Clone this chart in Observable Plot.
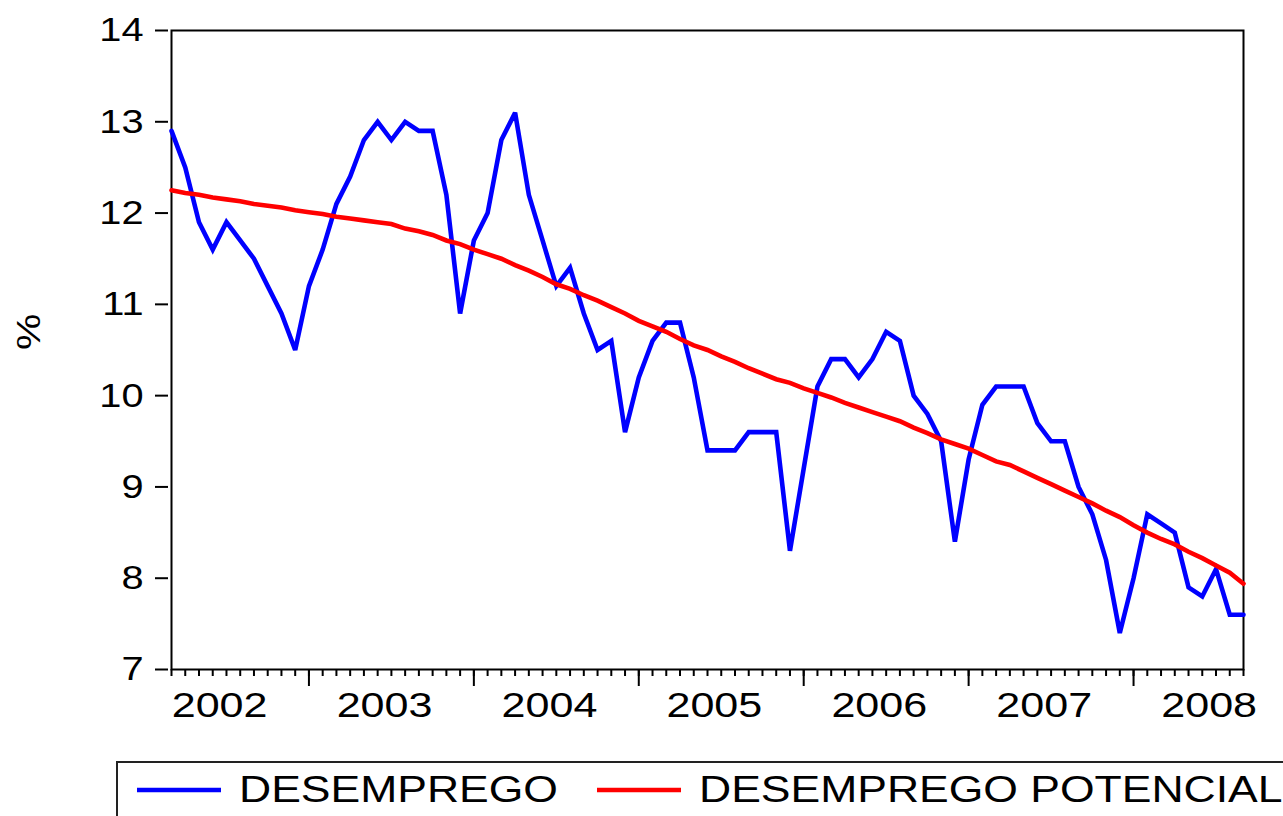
<!DOCTYPE html>
<html>
<head>
<meta charset="utf-8">
<script src="https://cdn.jsdelivr.net/npm/d3@7"></script>
<script src="https://cdn.jsdelivr.net/npm/@observablehq/plot@0.6"></script>
<style>
  html, body { margin: 0; padding: 0; background: #fff; }
  #wrap { position: relative; width: 1283px; height: 816px; overflow: hidden; background: #fff; }
  #legend { position: absolute; left: 0; top: 757px; }
  text { font-family: "Liberation Sans", Arial, sans-serif; }
</style>
</head>
<body>
<div id="wrap">
  <div id="chart"></div>
  <svg id="legend" width="1283" height="59"></svg>
</div>
<script>
// ---- data (monthly, Mar 2002 – Sep 2008) ----
const startYear = 2002;
const startMonth = 3; // March
const desemprego = [
  12.9, 12.5, 11.9, 11.6, 11.9, 11.7, 11.5, 11.2, 10.9, 10.5,
  11.2, 11.6, 12.1, 12.4, 12.8, 13.0, 12.8, 13.0, 12.9, 12.9,
  12.2, 10.9, 11.7, 12.0, 12.8, 13.1, 12.2, 11.7, 11.2, 11.4,
  10.9, 10.5, 10.6, 9.6, 10.2, 10.6, 10.8, 10.8, 10.2, 9.4,
  9.4, 9.4, 9.6, 9.6, 9.6, 8.3, 9.2, 10.1, 10.4, 10.4,
  10.2, 10.4, 10.7, 10.6, 10.0, 9.8, 9.5, 8.4, 9.3, 9.9,
  10.1, 10.1, 10.1, 9.7, 9.5, 9.5, 9.0, 8.7, 8.2, 7.4,
  8.0, 8.7, 8.6, 8.5, 7.9, 7.8, 8.1, 7.6, 7.6
];
const desempregoPotencial = [
  12.25, 12.22, 12.20, 12.17, 12.15, 12.13, 12.10, 12.08, 12.06, 12.03,
  12.01, 11.99, 11.96, 11.94, 11.92, 11.90, 11.88, 11.83, 11.80, 11.76,
  11.70, 11.66, 11.60, 11.55, 11.50, 11.43, 11.37, 11.30, 11.22, 11.17,
  11.10, 11.04, 10.97, 10.90, 10.82, 10.76, 10.70, 10.62, 10.55, 10.50,
  10.43, 10.37, 10.30, 10.24, 10.18, 10.14, 10.08, 10.03, 9.98, 9.92,
  9.87, 9.82, 9.77, 9.72, 9.65, 9.59, 9.52, 9.47, 9.42, 9.35,
  9.28, 9.24, 9.17, 9.10, 9.03, 8.96, 8.89, 8.82, 8.74, 8.67,
  8.58, 8.50, 8.43, 8.37, 8.29, 8.22, 8.14, 8.06, 7.94
];
const yearLabels = ["2002", "2003", "2004", "2005", "2006", "2007", "2008"];
const yTicks = [7, 8, 9, 10, 11, 12, 13, 14];
const seriesNames = ["DESEMPREGO", "DESEMPREGO POTENCIAL"];
const seriesColors = ["#0000ff", "#ff0000"];

// ---- derived table (month index as x) ----
const rows = [];
desemprego.forEach((v, i) => rows.push({t: i, v, s: seriesNames[0]}));
desempregoPotencial.forEach((v, i) => rows.push({t: i, v, s: seriesNames[1]}));
const n = desemprego.length;
const monthTicks = d3.range(n);
const janIndex = yearLabels.map(y => (+y - startYear) * 12 - (startMonth - 1));
const majorTicks = janIndex.filter(i => i >= 0 && i < n);
const labelPos = janIndex.map(i => i + 5.5);
const labelMap = new Map(labelPos.map((p, k) => [p, yearLabels[k]]));

const font = '"Liberation Sans", Arial, sans-serif';

const chart = Plot.plot({
  width: 1283,
  height: 757,
  marginLeft: 171,
  marginRight: 40,
  marginTop: 30,
  marginBottom: 88,
  style: {fontFamily: font, color: "#000", background: "#fff", overflow: "visible"},
  x: {type: "linear", domain: [0, n - 1]},
  y: {domain: [7, 14]},
  color: {domain: seriesNames, range: seriesColors},
  marks: [
    Plot.frame({stroke: "#000", strokeWidth: 2}),
    Plot.axisY({ticks: yTicks, label: null, tickSize: 13, tickPadding: 12, dx: -3, fontSize: 34, tickFormat: d => String(d), strokeWidth: 2}),
    Plot.axisX({ticks: monthTicks, label: null, tickSize: 7, tickFormat: () => "", strokeWidth: 2}),
    Plot.axisX({ticks: majorTicks, label: null, tickSize: 17, tickFormat: () => "", strokeWidth: 2}),
    Plot.axisX({ticks: labelPos, label: null, tickSize: 0, tickPadding: 23, fontSize: 35, tickFormat: d => labelMap.get(d)}),
    Plot.text(["%"], {frameAnchor: "left", dx: -142, rotate: -90, fontSize: 34, text: d => d}),
    Plot.line(rows, {x: "t", y: "v", z: "s", stroke: "s", strokeWidth: 4.6, strokeLinejoin: "miter", strokeMiterlimit: 3})
  ]
});
document.getElementById("chart").append(chart);

function stretch(nodes, f) {
  nodes.forEach(t => {
    const L = t.getComputedTextLength();
    if (L > 0) {
      t.setAttribute("textLength", (L * f).toFixed(2));
      t.setAttribute("lengthAdjust", "spacingAndGlyphs");
    }
  });
}
stretch(chart.querySelectorAll('g[aria-label="x-axis tick label"] text'), 1.23);
stretch(chart.querySelectorAll('g[aria-label="y-axis tick label"] text'), 1.17);
stretch(chart.querySelectorAll('g[aria-label="text"] text'), 1.2);

// ---- legend below the plot ----
const leg = d3.select("#legend");
leg.append("rect").attr("x", 117).attr("y", 5).attr("width", 1300).attr("height", 120)
  .attr("fill", "none").attr("stroke", "#222").attr("stroke-width", 2);
const legItems = [
  {name: seriesNames[0], color: seriesColors[0], x: 137},
  {name: seriesNames[1], color: seriesColors[1], x: 597}
];
legItems.forEach(it => {
  leg.append("line").attr("x1", it.x).attr("x2", it.x + 84).attr("y1", 33).attr("y2", 33)
    .attr("stroke", it.color).attr("stroke-width", 4.5);
  leg.append("text").attr("x", it.x + 102).attr("y", 45)
    .attr("font-size", 36).attr("fill", "#000").style("font-family", font).text(it.name);
});
stretch(document.querySelectorAll("#legend text"), 1.236);
</script>
</body>
</html>
